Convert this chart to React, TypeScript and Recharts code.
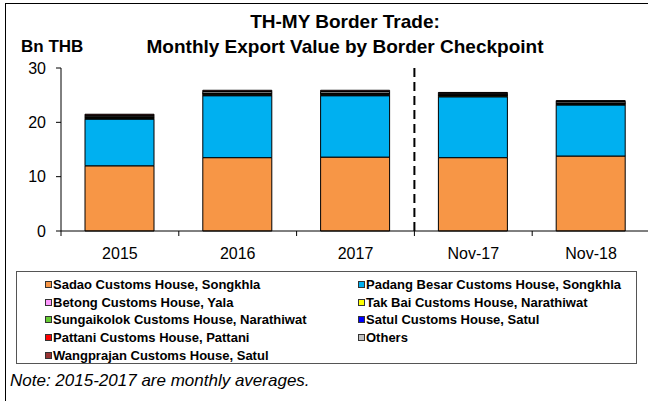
import React from 'react';
import { BarChart, Bar, XAxis, YAxis, ReferenceLine } from 'recharts';

const categories = ['2015', '2016', '2017', 'Nov-17', 'Nov-18'];
const sadao = [12.0, 13.5, 13.6, 13.5, 13.8];
const padangBesar = [8.6, 11.4, 11.3, 11.2, 9.4];
const betong = [0.12, 0.14, 0.13, 0.12, 0.1];
const takBai = [0.1, 0.12, 0.12, 0.1, 0.1];
const sungaikolok = [0.15, 0.15, 0.16, 0.13, 0.12];
const satul = [0.05, 0.05, 0.05, 0.04, 0.04];
const pattani = [0.02, 0.02, 0.02, 0.02, 0.02];
const others = [0.25, 0.3, 0.3, 0.24, 0.25];
const wangprajan = [0.2, 0.22, 0.22, 0.15, 0.17];
const yTicks = [0, 10, 20, 30];

const series = [
  { key: 'sadao', name: 'Sadao Customs House, Songkhla', color: '#F79646', values: sadao },
  { key: 'padang', name: 'Padang Besar Customs House, Songkhla', color: '#00B0F0', values: padangBesar },
  { key: 'betong', name: 'Betong Customs House, Yala', color: '#FF99FF', values: betong },
  { key: 'takbai', name: 'Tak Bai Customs House, Narathiwat', color: '#FFFF00', values: takBai },
  { key: 'sungai', name: 'Sungaikolok Customs House, Narathiwat', color: '#66CC33', values: sungaikolok },
  { key: 'satul', name: 'Satul Customs House, Satul', color: '#0000FF', values: satul },
  { key: 'pattani', name: 'Pattani Customs House, Pattani', color: '#FF0000', values: pattani },
  { key: 'others', name: 'Others', color: '#C0C0C0', values: others },
  { key: 'wang', name: 'Wangprajan Customs House, Satul', color: '#993333', values: wangprajan },
];

const legendOrder = ['sadao', 'padang', 'betong', 'takbai', 'sungai', 'satul', 'pattani', 'others', 'wang'];

const data = categories.map((c, i) => {
  const row: Record<string, string | number> = { name: c };
  series.forEach((s) => {
    row[s.key] = s.values[i];
  });
  return row;
});

const FONT = '"Liberation Sans", Arial, sans-serif';

const XTick = (props: any) => {
  const { x, y, payload, index } = props;
  const half = payload && typeof payload.offset === 'number' && payload.offset > 0 ? payload.offset : 58.75;
  const last = index === categories.length - 1;
  return (
    <g>
      <line x1={x - half} x2={x - half} y1={y} y2={y + 5} stroke="#000" strokeWidth={1} />
      {last && <line x1={x + half} x2={x + half} y1={y} y2={y + 5} stroke="#000" strokeWidth={1} />}
      <text x={x} y={y + 28} textAnchor="middle" fontSize={16} fontFamily={FONT} fill="#000">
        {payload.value}
      </text>
    </g>
  );
};

export default function App() {
  const legendItems = legendOrder.map((k) => series.find((s) => s.key === k)!);
  return (
    <div
      style={{
        position: 'absolute',
        left: 0,
        top: 0,
        width: 648,
        height: 401,
        overflow: 'hidden',
        background: '#fff',
        fontFamily: FONT,
      }}
    >
      <div
        style={{
          position: 'absolute',
          left: 5,
          top: 3,
          width: 660,
          height: 420,
          borderLeft: '1px solid #000',
          borderTop: '1px solid #000',
        }}
      />
      <div
        style={{
          position: 'absolute',
          left: 60,
          width: 570,
          top: 9,
          textAlign: 'center',
          fontWeight: 'bold',
          fontSize: 19,
          lineHeight: '25px',
          color: '#000',
        }}
      >
        TH-MY Border Trade:
        <br />
        Monthly Export Value by Border Checkpoint
      </div>
      <div
        style={{
          position: 'absolute',
          left: 21,
          top: 37,
          fontWeight: 'bold',
          fontSize: 17,
          color: '#000',
        }}
      >
        Bn THB
      </div>
      <div style={{ position: 'absolute', left: 0, top: 0 }}>
        <BarChart
          width={650}
          height={401}
          data={data}
          margin={{ top: 68, right: 0, left: 0, bottom: 140 }}
          barSize={69}
        >
          <XAxis
            dataKey="name"
            height={30}
            tickSize={0}
            tickMargin={0}
            tickLine={false}
            axisLine={{ stroke: '#000', strokeWidth: 1 }}
            tick={<XTick />}
            interval={0}
          />
          <YAxis
            width={61}
            domain={[0, 30]}
            ticks={yTicks}
            interval={0}
            tickSize={5}
            tickMargin={10}
            axisLine={{ stroke: '#000', strokeWidth: 1 }}
            tickLine={{ stroke: '#000', strokeWidth: 1 }}
            tick={{ fill: '#000', fontSize: 16, fontFamily: FONT }}
          />
          {series.map((s) => (
            <Bar
              key={s.key}
              dataKey={s.key}
              name={s.name}
              stackId="a"
              fill={s.color}
              stroke="#000"
              strokeWidth={1}
              isAnimationActive={false}
            />
          ))}
          <ReferenceLine
            x="Nov-17"
            position="start"
            stroke="#000"
            strokeWidth={2}
            strokeDasharray="9 5"
            ifOverflow="visible"
          />
        </BarChart>
      </div>
      <div
        style={{
          position: 'absolute',
          left: 16,
          top: 271,
          width: 621,
          height: 93,
          border: '1px solid #555',
          boxSizing: 'border-box',
        }}
      >
        {legendItems.map((s, i) => {
          const col = i % 2;
          const row = Math.floor(i / 2);
          return (
            <div
              key={s.key}
              style={{
                position: 'absolute',
                left: col === 0 ? 28 : 341,
                top: 4 + row * 17.7,
                height: 17,
                display: 'flex',
                alignItems: 'center',
                fontSize: 13,
                fontWeight: 'bold',
                color: '#000',
                whiteSpace: 'nowrap',
              }}
            >
              <span
                style={{
                  display: 'inline-block',
                  width: 5,
                  height: 5,
                  background: s.color,
                  border: '1px solid #333',
                  marginRight: 1,
                }}
              />
              {s.name}
            </div>
          );
        })}
      </div>
      <div
        style={{
          position: 'absolute',
          left: 10,
          top: 371,
          fontStyle: 'italic',
          fontSize: 17,
          color: '#000',
        }}
      >
        Note: 2015-2017 are monthly averages.
      </div>
    </div>
  );
}
